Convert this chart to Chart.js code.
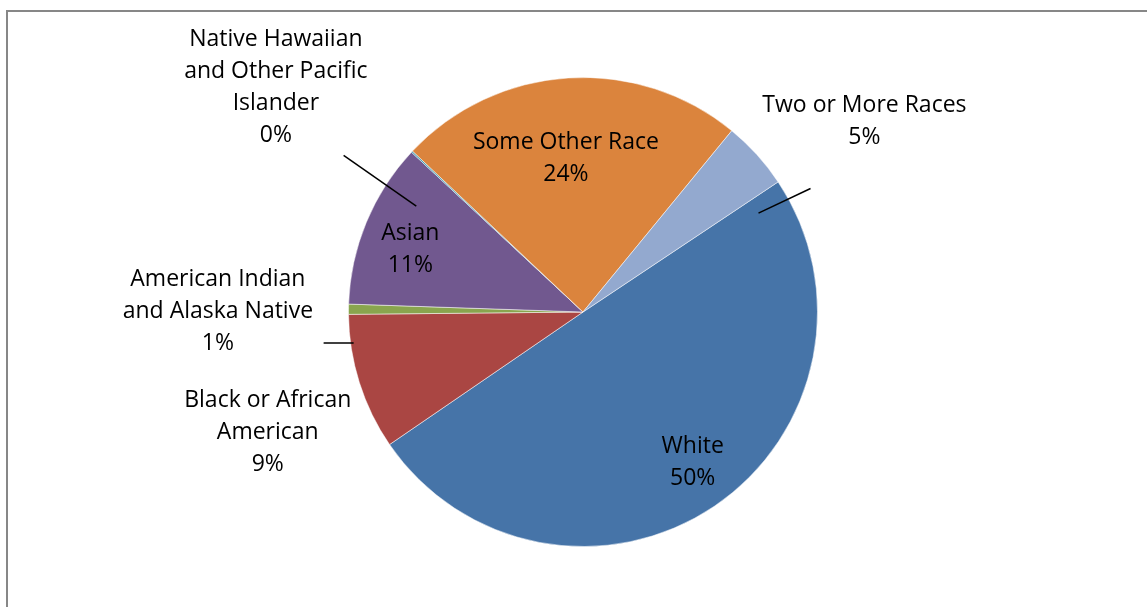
<!DOCTYPE html>
<html>
<head>
<meta charset="utf-8">
<script src="https://cdn.jsdelivr.net/npm/chart.js@4.4.1/dist/chart.umd.min.js"></script>
<style>
  html, body { margin: 0; padding: 0; background: #fff; overflow: hidden; }
  #wrap { position: relative; width: 1147px; height: 607px; }
  #frame { position: absolute; left: 6px; top: 10px; width: 1200px; height: 700px; border: 2px solid #878787; box-sizing: border-box; }
  canvas { position: absolute; left: 0; top: 0; }
</style>
</head>
<body>
<div id="wrap">
  <div id="frame"></div>
  <canvas id="pieChart" width="1147" height="607"></canvas>
</div>
<script>
// race categories, in drawing order (clockwise)
const categories = [
  ['White'],
  ['Black or African', 'American'],
  ['American Indian', 'and Alaska Native'],
  ['Asian'],
  ['Native Hawaiian', 'and Other Pacific', 'Islander'],
  ['Some Other Race'],
  ['Two or More Races']
];
// share of population, percent
const shares = [49.8, 9.4, 0.7, 11.4, 0.1, 23.9, 4.7];
const sliceColors = ['#4674A8', '#AA4643', '#89A54E', '#71588F', '#4198AF', '#DB843D', '#93A9CF'];

// where each label sits: angle in degrees clockwise from top, distance as share of radius
// line: [angle1, dist1, angle2, dist2] for the leader line, or null
const labelPlaces = [
  { angle: 143.7, dist: 0.79, line: null },
  { angle: 249.2, dist: 1.438, line: null },
  { angle: 270.3, dist: 1.557, line: [263.2, 1.114, 262.3, 0.987] },
  { angle: 290.3, dist: 0.785, line: null },
  { angle: 306.3, dist: 1.625, line: [303.2, 1.22, 302.4, 0.842] },
  { angle: 353.7, dist: 0.664, line: null },
  { angle: 55.75, dist: 1.452, line: [61.5, 1.104, 60.6, 0.859] }
];

const FONT = '23px "Open Sans", Lato, sans-serif';
const LINE_H = 32;

function polar(cx, cy, r, deg, f) {
  const a = (deg - 90) * Math.PI / 180;
  return { x: cx + Math.cos(a) * r * f, y: cy + Math.sin(a) * r * f };
}

const sliceLabels = {
  id: 'sliceLabels',
  afterDatasetsDraw(chart) {
    const ctx = chart.ctx;
    const meta = chart.getDatasetMeta(0);
    const total = shares.reduce((a, b) => a + b, 0);
    const arc0 = meta.data[0];
    const { x: cx, y: cy, outerRadius: r } = arc0.getProps(['x', 'y', 'outerRadius'], true);
    ctx.save();
    ctx.font = FONT;
    ctx.fillStyle = '#000';
    ctx.textAlign = 'center';
    ctx.textBaseline = 'middle';
    meta.data.forEach((arc, i) => {
      const place = labelPlaces[i];
      const lines = categories[i].concat([Math.round(shares[i] / total * 100) + '%']);
      const p = polar(cx, cy, r, place.angle, place.dist);
      const top = p.y + 1 - (lines.length - 1) * LINE_H / 2;
      lines.forEach((t, k) => ctx.fillText(t, p.x, top + k * LINE_H));
      if (place.line) {
        const a = polar(cx, cy, r, place.line[0], place.line[1]);
        const b = polar(cx, cy, r, place.line[2], place.line[3]);
        ctx.beginPath();
        ctx.strokeStyle = '#000';
        ctx.lineWidth = 1.5;
        ctx.moveTo(a.x, a.y);
        ctx.lineTo(b.x, b.y);
        ctx.stroke();
      }
    });
    ctx.restore();
  }
};

new Chart(document.getElementById('pieChart').getContext('2d'), {
  type: 'pie',
  data: {
    labels: categories,
    datasets: [{
      data: shares,
      backgroundColor: sliceColors,
      borderColor: 'rgba(255,255,255,0.5)',
      borderWidth: 1
    }]
  },
  options: {
    responsive: false,
    animation: false,
    rotation: 56.3,
    layout: { padding: { left: 348, right: 329, top: 77, bottom: 60 } },
    plugins: {
      legend: { display: false },
      tooltip: { enabled: false }
    }
  },
  plugins: [sliceLabels]
});
</script>
</body>
</html>
